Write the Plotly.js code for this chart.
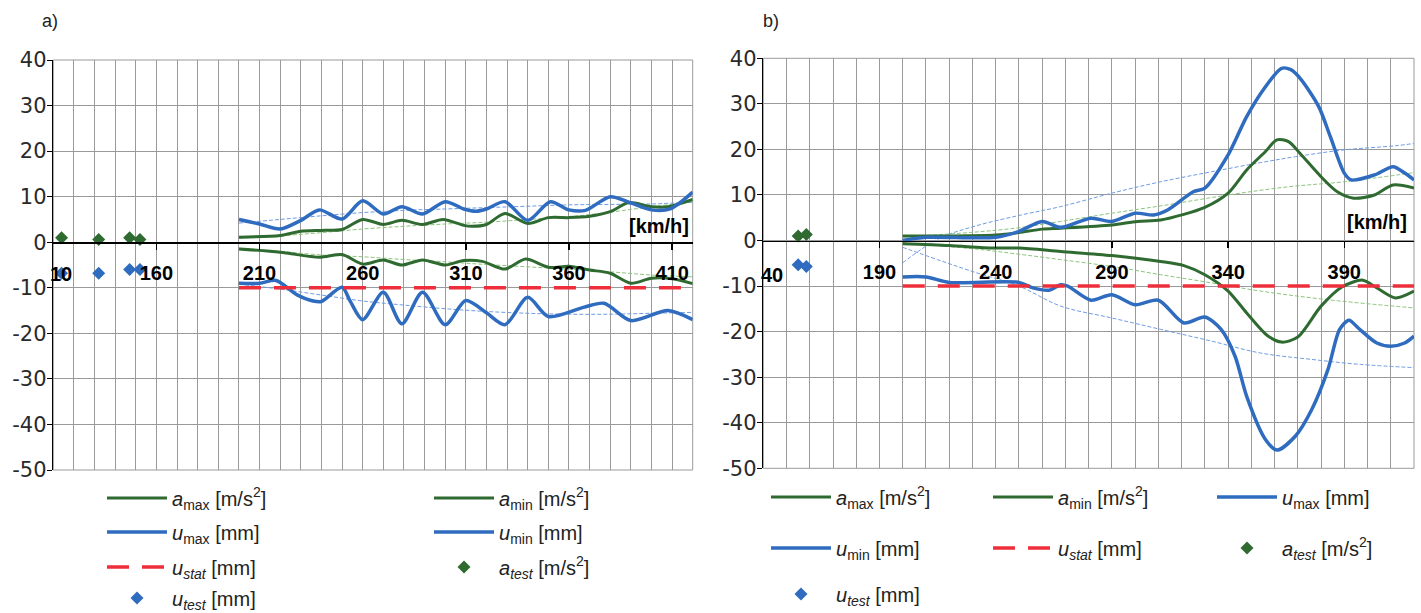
<!DOCTYPE html>
<html><head><meta charset="utf-8">
<script src="https://cdn.plot.ly/plotly-3.0.1.min.js"></script>
<style>html,body{margin:0;padding:0;background:#fff}#chart{width:1421px;height:613px}</style>
</head><body><div id="chart"></div>
<script>
// ---------- Panel a) data ----------
const aMaxA_x = [200,220,230,240,250,260,270,279,289,299,309,313,320,329,340,350,360,370,380,389,400,408,420];
const aMaxA_y = [1.1,1.5,2.4,2.6,2.8,5.0,3.9,4.8,3.9,5.0,3.7,3.5,3.9,6.3,4.1,5.4,5.4,5.7,6.7,8.7,7.8,7.8,9.4];
const aMinA_x = [200,220,239,250,260,270,279,289,300,309,318,329,339,350,360,370,380,390,400,410,420];
const aMinA_y = [-1.5,-2.2,-3.3,-2.7,-4.8,-3.9,-5.0,-3.9,-5.0,-4.0,-4.2,-5.9,-3.7,-5.5,-5.3,-6.1,-6.8,-9.0,-7.9,-8.0,-9.1];
const uMaxA_x = [200,210,220,230,239,250,260,270,279,289,300,309,315,320,329,340,351,360,368,380,389,400,409,420];
const uMaxA_y = [5.0,4.0,2.9,4.8,7.1,5.1,9.1,6.2,7.8,6.2,8.9,7.3,6.8,7.3,8.9,4.8,8.9,7.1,7.0,10.0,8.8,7.1,7.3,11.0];
const uMinA_x = [200,210,218,228,236,240,250,254,260,270,279,289,300,310,320,329,340,350,367,377,390,408,420];
const uMinA_y = [-9.0,-9.0,-8.4,-11.5,-12.9,-13.0,-9.9,-13.0,-17.0,-11.0,-17.9,-11.0,-18.1,-12.8,-15.5,-18.1,-12.1,-16.3,-14.3,-13.4,-17.2,-15.0,-17.0];
const trendA_x   = [200,220,240,260,280,300,320,340,360,380,400,420];
const aMaxTrendA = [0.9,1.4,2.1,2.9,3.5,4.0,4.4,5.0,5.6,6.6,7.8,8.8];
const aMinTrendA = [-1.3,-2.0,-2.8,-3.2,-3.8,-4.3,-4.9,-5.4,-5.9,-6.5,-7.2,-7.6];
const uMaxTrendA = [4.2,5.0,5.8,6.5,7.0,7.3,7.6,7.9,8.2,8.3,8.4,8.8];
const uMinTrendA = [-9.2,-10.3,-11.6,-12.9,-13.8,-14.6,-15.2,-15.6,-15.8,-15.8,-15.6,-15.4];
const uStatA_x = [200,420];
const uStatA_y = [-10,-10];
const aTestA_x = [114,132,147,152];
const aTestA_y = [1.0,0.6,1.0,0.6];
const uTestA_x = [114,132,147,152];
const uTestA_y = [-6.8,-6.8,-6.0,-6.0];

// ---------- Panel b) data ----------
const aMaxB_x = [200,220,240,250,260,268,290,301,311,330,340,348,356,361,366,371,380,387,394,403,411,420];
const aMaxB_y = [1.0,1.0,1.2,1.75,2.5,2.7,3.4,4.2,4.5,7.3,10.4,15.5,19.5,22.1,21.7,19.1,14.0,10.7,9.3,10.0,12.2,11.5];
const aMinB_x = [200,220,239,250,268,290,311,321,330,340,348,357,363,370,380,389,398,404,412,420];
const aMinB_y = [-0.7,-1.1,-1.65,-1.65,-2.4,-3.3,-4.6,-5.5,-7.5,-11.1,-15.9,-20.9,-22.3,-21.2,-14.4,-10.2,-8.7,-10.4,-12.6,-11.1];
const uMaxB_x = [200,210,240,250,260,268,281,290,300,308,314,325,330,340,348,356,363,367,371,379,384,390,393,403,411,416,420];
const uMaxB_y = [0,0.7,0.7,2.0,4.2,2.9,4.9,4.2,6.0,5.6,6.7,10.7,11.5,18.8,27.2,33.7,37.8,37.5,35.6,29.4,22.8,14.8,13.3,14.4,16.2,14.8,13.3];
const uMinB_x = [200,210,220,250,256,263,268,271,281,290,300,310,321,330,337,343,348,356,361,369,376,383,388,392,396,404,410,416,420];
const uMinB_y = [-8.0,-8.0,-9.2,-9.2,-10.4,-10.9,-9.7,-10.0,-13.1,-11.9,-14.1,-13.1,-18.1,-16.8,-19.5,-25.4,-34.2,-43.6,-46.0,-42.9,-37.1,-28.3,-19.5,-17.5,-19.2,-22.5,-23.2,-22.5,-21.0];
const uMaxTrendB_x = [200,215,230,250,268,290,311,333,354,369,390,412,420];
const uMaxTrendB_y = [-4.9,0.3,3.0,5.5,7.45,10.4,12.9,15.1,17.1,18.4,19.9,20.8,21.3];
const uMinTrendB_x = [200,215,230,250,268,290,311,333,354,376,397,420];
const uMinTrendB_y = [-1.5,-4.2,-6.8,-10.0,-14.4,-17.0,-19.5,-22.1,-24.7,-26.1,-27.2,-27.9];
const aMaxTrendB_x = [200,230,250,268,290,311,340,366,390,420];
const aMaxTrendB_y = [0.8,1.8,2.8,4.2,6.0,7.6,10.0,11.8,12.9,14.9];
const aMinTrendB_x = [200,230,250,268,290,311,333,354,383,420];
const aMinTrendB_y = [-0.5,-1.8,-3.0,-4.2,-5.7,-7.5,-9.3,-11.1,-13.0,-14.8];
const uStatB_x = [200,420];
const uStatB_y = [-10,-10];
const aTestB_x = [155,158.5];
const aTestB_y = [1.0,1.3];
const uTestB_x = [155,158.5];
const uTestB_y = [-5.3,-5.7];

// ---------- ticks & labels ----------
const xTickValsA = [160,210,260,310,360,410];
const xTickValsB = [190,240,290,340,390];
const xFirstA = 110, xFirstLabelA = '10';   // left-most speed label, clipped in the original
const xFirstB = 140, xFirstLabelB = '40';
const yTickVals = [-50,-40,-30,-20,-10,0,10,20,30,40];
const yTickText = ['-50','-40','-30','-20','-10','0','10','20','30','40'];
const names = {
  aMax: '<i>a</i><sub>max</sub> [m/s<sup>2</sup>]',
  aMin: '<i>a</i><sub>min</sub> [m/s<sup>2</sup>]',
  uMax: '<i>u</i><sub>max</sub> [mm]',
  uMin: '<i>u</i><sub>min</sub> [mm]',
  uStat: '<i>u<sub>stat</sub></i> [mm]',
  aTest: '<i>a<sub>test</sub></i> [m/s<sup>2</sup>]',
  uTest: '<i>u<sub>test</sub></i> [mm]'
};
const speedUnit = '[km/h]';

// ---------- style ----------
const W = 1421, H = 613;
const GREEN = '#2f6a31', BLUE = '#2f6cbf', RED = '#ee2f3b', LBLUE = '#6f9ce2', LGREEN = '#8cc47c';
const GRID = '#9a9a9a';
const FONT = 'Liberation Sans, Arial, sans-serif';

function line(x, y, color, width, xa, ya, name, leg) {
  return {x, y, type:'scatter', mode:'lines', xaxis:xa, yaxis:ya, name,
    line:{color, width, shape:'spline', smoothing:0.8},
    showlegend:true, legend:leg, hoverinfo:'skip'};
}
function trend(x, y, color, xa, ya) {
  return {x, y, type:'scatter', mode:'lines', xaxis:xa, yaxis:ya, showlegend:false,
    line:{color, width:1, dash:'4px,2px', shape:'spline'}, hoverinfo:'skip'};
}
function pts(x, y, color, xa, ya, name, leg) {
  return {x, y, type:'scatter', mode:'markers', xaxis:xa, yaxis:ya, name, legend:leg,
    marker:{symbol:'diamond', size:10, color}, hoverinfo:'skip'};
}
function stat(x, y, xa, ya, name, leg) {
  return {x, y, type:'scatter', mode:'lines', xaxis:xa, yaxis:ya, name, legend:leg,
    line:{color:RED, width:3.5, dash:'22px,13px'}, hoverinfo:'skip'};
}

const traces = [
  trend(trendA_x, aMaxTrendA, LGREEN, 'x', 'y'),
  trend(trendA_x, aMinTrendA, LGREEN, 'x', 'y'),
  trend(trendA_x, uMaxTrendA, LBLUE, 'x', 'y'),
  trend(trendA_x, uMinTrendA, LBLUE, 'x', 'y'),
  line(aMaxA_x, aMaxA_y, GREEN, 3, 'x', 'y', names.aMax, 'legend'),
  line(aMinA_x, aMinA_y, GREEN, 3, 'x', 'y', names.aMin, 'legend2'),
  line(uMaxA_x, uMaxA_y, BLUE, 3.5, 'x', 'y', names.uMax, 'legend3'),
  line(uMinA_x, uMinA_y, BLUE, 3.5, 'x', 'y', names.uMin, 'legend4'),
  stat(uStatA_x, uStatA_y, 'x', 'y', names.uStat, 'legend5'),
  pts(aTestA_x, aTestA_y, GREEN, 'x', 'y', names.aTest, 'legend6'),
  pts(uTestA_x, uTestA_y, BLUE, 'x', 'y', names.uTest, 'legend7'),

  trend(aMaxTrendB_x, aMaxTrendB_y, LGREEN, 'x2', 'y2'),
  trend(aMinTrendB_x, aMinTrendB_y, LGREEN, 'x2', 'y2'),
  trend(uMaxTrendB_x, uMaxTrendB_y, LBLUE, 'x2', 'y2'),
  trend(uMinTrendB_x, uMinTrendB_y, LBLUE, 'x2', 'y2'),
  line(aMaxB_x, aMaxB_y, GREEN, 3, 'x2', 'y2', names.aMax, 'legend8'),
  line(aMinB_x, aMinB_y, GREEN, 3, 'x2', 'y2', names.aMin, 'legend9'),
  line(uMaxB_x, uMaxB_y, BLUE, 3.5, 'x2', 'y2', names.uMax, 'legend10'),
  line(uMinB_x, uMinB_y, BLUE, 3.5, 'x2', 'y2', names.uMin, 'legend11'),
  stat(uStatB_x, uStatB_y, 'x2', 'y2', names.uStat, 'legend12'),
  pts(aTestB_x, aTestB_y, GREEN, 'x2', 'y2', names.aTest, 'legend13'),
  pts(uTestB_x, uTestB_y, BLUE, 'x2', 'y2', names.uTest, 'legend14')
];

// legend placement: text start (px) and row centre (px)
function leg(T, Y) {
  return {x:(T-70)/W, y:1-Y/H, xanchor:'left', yanchor:'middle', orientation:'v',
    bgcolor:'rgba(0,0,0,0)', borderwidth:0, itemwidth:60, tracegroupgap:0,
    font:{family:FONT, size:20, color:'#222'}};
}

const yDomA = [1-470/H, 1-60/H], yDomB = [1-468.3/H, 1-58.3/H];
const xDomA = [53.3/W, 692.7/W], xDomB = [763.3/W, 1414/W];
const zeroPos = d => d[0] + (50/90)*(d[1]-d[0]);

function xAxis(d, yd, lo, tv, standoff) {
  return {domain:d, range:[lo,420], anchor:'free', position:zeroPos(yd),
    tickmode:'array', tickvals:tv, ticktext:tv.map(String),
    ticks:'outside', ticklen:6, tickwidth:1.5, tickcolor:'#000',
    showline:true, linecolor:'#000', linewidth:1.5, showgrid:false,
    minor:{dtick:10, tick0:lo, showgrid:true, gridcolor:GRID, gridwidth:1, ticks:''},
    zeroline:false, ticklabelstandoff:standoff, fixedrange:true,
    tickfont:{family:FONT, size:20, color:'#000', weight:700}};
}
function yAxis(d, anchorX) {
  return {domain:d, range:[-50,40], anchor:anchorX, tickmode:'array', tickvals:yTickVals, ticktext:yTickText,
    ticks:'outside', ticklen:5, tickcolor:'#000', showline:true, linecolor:'#000', linewidth:1.5,
    showgrid:true, gridcolor:GRID, gridwidth:1, zeroline:false, fixedrange:true, ticklabelstandoff:-4,
    tickfont:{family:'DejaVu Sans, sans-serif', size:21, color:'#2a2a2a'}};
}

const layout = {
  width:W, height:H, margin:{l:0, r:0, t:0, b:0, autoexpand:false},
  paper_bgcolor:'#fff', plot_bgcolor:'rgba(0,0,0,0)',
  font:{family:FONT, color:'#222'},
  xaxis: xAxis(xDomA, yDomA, 110, xTickValsA, 6),
  yaxis: yAxis(yDomA, 'x'),
  xaxis2: xAxis(xDomB, yDomB, 140, xTickValsB, 7),
  yaxis2: yAxis(yDomB, 'x2'),
  legend: leg(172, 498), legend2: leg(499, 498), legend3: leg(172, 532), legend4: leg(499, 532),
  legend5: leg(172, 567), legend6: leg(499, 567), legend7: leg(172, 598),
  legend8: leg(836, 497), legend9: leg(1058, 497), legend10: leg(1282, 497),
  legend11: leg(836, 548), legend12: leg(1058, 548), legend13: leg(1282, 548), legend14: leg(836, 594),
  annotations: [
    {text:'a)', xref:'paper', yref:'paper', x:40/W, y:1-21/H, xanchor:'left', yanchor:'middle', showarrow:false,
     font:{family:FONT, size:18, color:'#222'}},
    {text:'b)', xref:'paper', yref:'paper', x:761/W, y:1-21/H, xanchor:'left', yanchor:'middle', showarrow:false,
     font:{family:FONT, size:18, color:'#222'}},
    {text:'<b>'+speedUnit+'</b>', xref:'x', yref:'y', x:420, y:0, xanchor:'right', yanchor:'bottom', xshift:-2, yshift:3,
     showarrow:false, font:{family:FONT, size:20, color:'#000'}},
    {text:'<b>'+speedUnit+'</b>', xref:'x2', yref:'y2', x:420, y:0, xanchor:'right', yanchor:'bottom', xshift:-5, yshift:6,
     showarrow:false, font:{family:FONT, size:20, color:'#000'}},
    {text:'<b>'+xFirstLabelA+'</b>', xref:'x', yref:'y', x:xFirstA, y:0, xanchor:'left', yanchor:'middle', xshift:-5, yshift:-32,
     showarrow:false, font:{family:FONT, size:20, color:'#000'}},
    {text:'<b>'+xFirstLabelB+'</b>', xref:'x2', yref:'y2', x:xFirstB, y:0, xanchor:'left', yanchor:'middle', xshift:-4, yshift:-34,
     showarrow:false, font:{family:FONT, size:20, color:'#000'}}
  ],
  shapes: [
    {type:'rect', xref:'x domain', yref:'y domain', x0:0, x1:1, y0:0, y1:1, line:{color:GRID, width:1}, layer:'below'},
    {type:'rect', xref:'x2 domain', yref:'y2 domain', x0:0, x1:1, y0:0, y1:1, line:{color:GRID, width:1}, layer:'below'}
  ]
};

Plotly.newPlot('chart', traces, layout, {staticPlot:true, displayModeBar:false});
</script>
</body></html>
